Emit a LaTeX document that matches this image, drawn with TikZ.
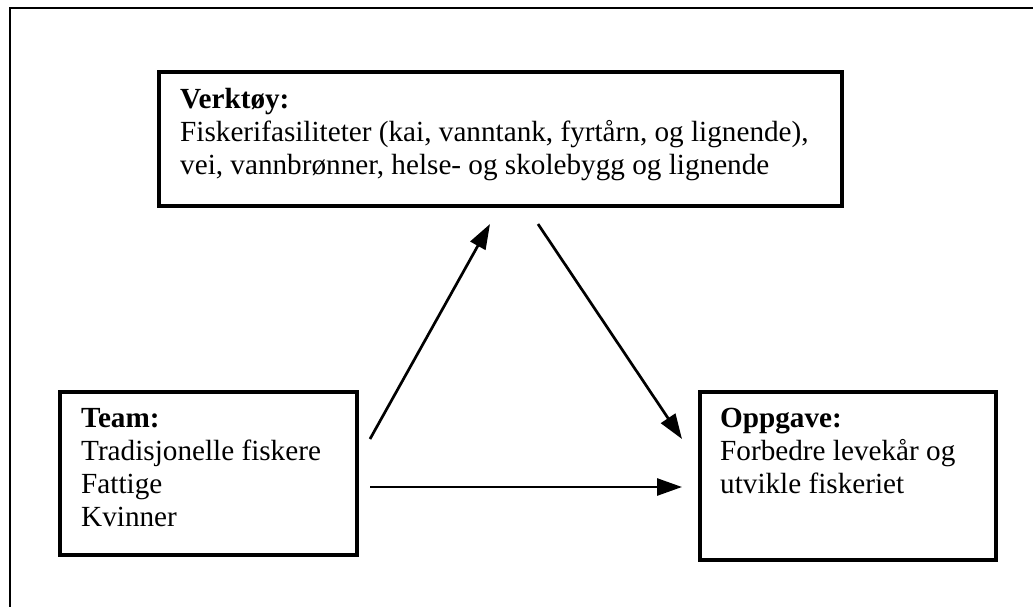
\documentclass[tikz,border=0pt]{standalone}
\usepackage{fontspec}
\setmainfont{Liberation Serif}
\usetikzlibrary{arrows.meta}
\begin{document}
\begin{tikzpicture}[x=1pt,y=-1pt,
  box/.style={draw, line width=4pt, inner sep=0pt, anchor=north west},
  txt/.style={anchor=north west, inner sep=0pt, align=left, font=\fontsize{29.2}{33}\selectfont},
  conn/.style={line width=2.7pt, -{Triangle[length=25pt,width=17pt]}}]
\useasboundingbox (0,0) rectangle (1033,606);
\clip (0,0) rectangle (1033,606);
\draw[line width=2pt] (10,8) rectangle (1060,640);
% boxes
\node[box, minimum width=683pt, minimum height=134pt] (tool) at (157,70) {};
\node[box, minimum width=297pt, minimum height=163pt] (team) at (58,390) {};
\node[box, minimum width=296pt, minimum height=168pt] (task) at (698,390) {};
% texts
\node[txt] (tooltxt) at (180,75) {\rule{0pt}{33pt}\textbf{Verktøy:}\\Fiskerifasiliteter (kai, vanntank, fyrtårn, og lignende),\\vei, vannbrønner, helse- og skolebygg og lignende};
\node[txt] (teamtxt) at (81,394) {\rule{0pt}{33pt}\textbf{Team:}\\Tradisjonelle fiskere\\Fattige\\Kvinner};
\node[txt] (tasktxt) at (720,394) {\rule{0pt}{33pt}\textbf{Oppgave:}\\Forbedre levekår og\\utvikle fiskeriet};
% connector ends
\coordinate (upS) at (370,439);
\coordinate (upE) at (490,224);
\coordinate (dnS) at (538,224);
\coordinate (dnE) at (682,439);
\coordinate (hS) at (370,487);
\coordinate (hE) at (682,487);
\draw[conn] (upS) -- (upE);
\draw[conn] (dnS) -- (dnE);
\draw[conn] (hS) -- (hE);
\end{tikzpicture}
\end{document}
